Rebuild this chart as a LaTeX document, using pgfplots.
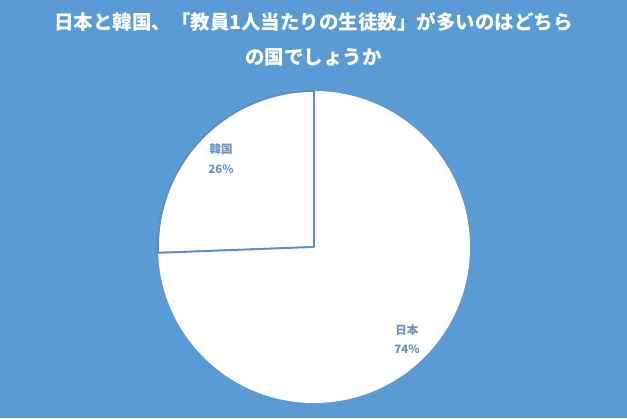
\documentclass[border=0pt]{standalone}
\usepackage{pgfplots}
\pgfplotsset{compat=1.18}
\usepackage{pgfplotstable}
\usepackage{fontspec}
\setmainfont{Noto Sans CJK JP}
\newfontfamily\cjk{Noto Sans CJK JP}
\definecolor{bg}{HTML}{5B9BD5}
\definecolor{edge}{HTML}{5E8CC0}
\definecolor{lab}{HTML}{6A93C0}
\pgfplotstableread[col sep=comma]{
name,value
韓国,25.6
日本,74.4
}\piedata
\begin{document}
\begin{tikzpicture}[x=1bp,y=1bp]
\fill[bg] (0,0) rectangle (627,418);
\node[text=white,font=\cjk\bfseries\fontsize{19.5bp}{35bp}\selectfont,align=center,anchor=center] at (313.5,378.5)
 {日本と韓国、「教員1人当たりの生徒数」が多いのはどちら\\の国でしょうか};
\begin{axis}[hide axis, scale only axis, width=312bp, height=312bp,
  xmin=-1, xmax=1, ymin=-1, ymax=1,
  at={(314bp,171bp)}, anchor=center, clip=false]
\pgfplotstablegetelem{0}{value}\of\piedata \let\vA\pgfplotsretval
\pgfplotstablegetelem{1}{value}\of\piedata \let\vB\pgfplotsretval
\pgfmathsetmacro\aA{90+3.6*\vA}
\pgfmathsetmacro\aB{\aA+3.6*\vB}
\fill[white,draw=edge,line width=1.8bp] (axis cs:0,0) -- ++(90:156bp) arc[start angle=90,end angle=\aA,radius=156bp] -- cycle;
\fill[white] (axis cs:0,0) -- ++(\aA:156bp) arc[start angle=\aA,end angle=\aB,radius=156bp] -- cycle;
\draw[edge,line width=1.8bp] (axis cs:0,0) -- ++(90:156bp);
\draw[edge,line width=1.8bp] (axis cs:0,0) -- ++(\aA:156bp);
\node[text=lab,font=\cjk\bfseries\fontsize{11.5bp}{19.5bp}\selectfont,align=center] at (axis cs:-0.596,0.567) {韓国\\\pgfmathprintnumber[fixed,precision=0,assume math mode=true]{\vA}\%};
\node[text=lab,font=\cjk\bfseries\fontsize{11.5bp}{19.5bp}\selectfont,align=center] at (axis cs:0.596,-0.590) {日本\\\pgfmathprintnumber[fixed,precision=0,assume math mode=true]{\vB}\%};
\end{axis}
\end{tikzpicture}
\end{document}
